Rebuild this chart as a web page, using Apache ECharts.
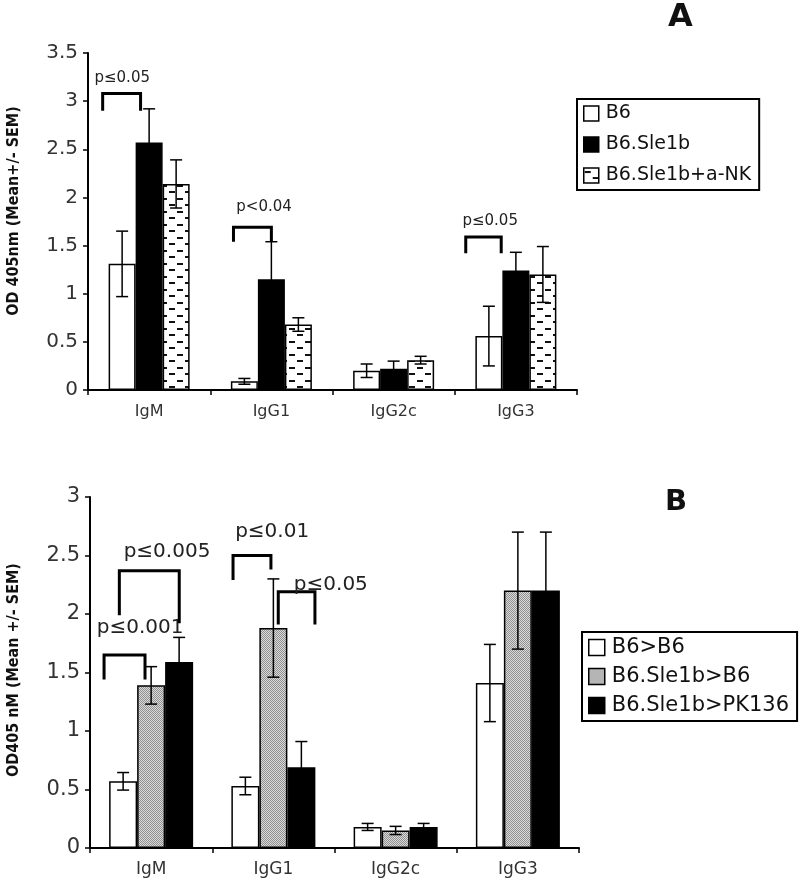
<!DOCTYPE html>
<html>
<head>
<meta charset="utf-8">
<script src="https://cdn.jsdelivr.net/npm/echarts@6/dist/echarts.min.js"></script>
<style>
  html, body { margin: 0; background: #fff; }
  #main { width: 800px; height: 881px; }
</style>
</head>
<body>
<div id="main"></div>
<script>
// ---- data ----
const categories = ['IgM', 'IgG1', 'IgG2c', 'IgG3'];

const namesA = ['B6', 'B6.Sle1b', 'B6.Sle1b+a-NK'];
const meanA = [
  [1.31, 0.09, 0.20, 0.56],
  [2.57, 1.15, 0.22, 1.24],
  [2.14, 0.68, 0.31, 1.20]
];
const semA = [
  [0.34, 0.03, 0.07, 0.31],
  [0.35, 0.39, 0.08, 0.19],
  [0.25, 0.07, 0.04, 0.29]
];

const namesB = ['B6>B6', 'B6.Sle1b>B6', 'B6.Sle1b>PK136'];
const meanB = [
  [0.57, 0.53, 0.18, 1.41],
  [1.39, 1.88, 0.15, 2.20],
  [1.59, 0.69, 0.18, 2.20]
];
const semB = [
  [0.075, 0.075, 0.03, 0.33],
  [0.16, 0.42, 0.035, 0.50],
  [0.21, 0.22, 0.03, 0.50]
];

const yTicksA = [0, 0.5, 1, 1.5, 2, 2.5, 3, 3.5];
const yTicksB = [0, 0.5, 1, 1.5, 2, 2.5, 3];

// p-value brackets: category, leg offsets (fraction of band), heights, label
const pvalA = [
  {cat: 0, x1: -0.38, x2: -0.07, top: 3.08, l: 2.90, r: 2.90, text: 'p≤0.05', tx: -0.22, ty: 3.24},
  {cat: 1, x1: -0.31, x2: 0.0, top: 1.69, l: 1.54, r: 1.54, text: 'p<0.04', tx: -0.06, ty: 1.90},
  {cat: 3, x1: -0.41, x2: -0.12, top: 1.59, l: 1.42, r: 1.42, text: 'p≤0.05', tx: -0.21, ty: 1.75}
];
const pvalB = [
  {cat: 0, x1: -0.385, x2: -0.05, top: 1.65, l: 1.44, r: 1.44, text: 'p≤0.001', tx: -0.09, ty: 1.88},
  {cat: 0, x1: -0.26, x2: 0.23, top: 2.37, l: 1.99, r: 1.92, text: 'p≤0.005', tx: 0.13, ty: 2.53},
  {cat: 1, x1: -0.33, x2: -0.02, top: 2.50, l: 2.29, r: 2.38, text: 'p≤0.01', tx: -0.01, ty: 2.70},
  {cat: 1, x1: 0.04, x2: 0.34, top: 2.19, l: 1.91, r: 1.91, text: 'p≤0.05', tx: 0.47, ty: 2.25}
];

// ---- patterns ----
function makePattern(w, h, draw) {
  const c = document.createElement('canvas');
  c.width = w; c.height = h;
  draw(c.getContext('2d'));
  return {image: c, repeat: 'repeat'};
}
const dashFill = makePattern(16, 13, ctx => {
  ctx.fillStyle = '#fff'; ctx.fillRect(0, 0, 16, 13);
  ctx.fillStyle = '#111';
  ctx.fillRect(1, 3, 6, 2);
  ctx.fillRect(9, 9, 6, 2);
});
const dotFill = makePattern(2, 2, ctx => {
  ctx.fillStyle = '#dadada'; ctx.fillRect(0, 0, 2, 2);
  ctx.fillStyle = '#909090';
  ctx.fillRect(0, 0, 1, 1);
  ctx.fillRect(1, 1, 1, 1);
});

const FONT = 'DejaVu Sans';
const fillsA = ['#fff', '#000', dashFill];
const fillsB = ['#fff', dotFill, '#000'];

// ---- helpers ----
function barSeries(names, means, fills, axis, bw) {
  return names.map((n, i) => ({
    name: n, type: 'bar', xAxisIndex: axis, yAxisIndex: axis,
    data: means[i], barWidth: bw, barGap: '0%',
    itemStyle: {color: fills[i], borderColor: '#000', borderWidth: 1.5}
  }));
}

function errSeries(means, sems, axis, bw) {
  return means.map((m, k) => ({
    type: 'custom', xAxisIndex: axis, yAxisIndex: axis, z: 5, silent: true,
    data: m.map((v, i) => [i, v, sems[k][i]]),
    renderItem(params, api) {
      const c = api.value(0), v = api.value(1), e = api.value(2);
      const top = api.coord([c, v + e]);
      const bot = api.coord([c, Math.max(v - e, 0)]);
      const x = top[0] + (k - 1) * bw;
      const cap = 6;
      const st = {stroke: '#000', lineWidth: 1.5};
      return {type: 'group', children: [
        {type: 'line', shape: {x1: x, y1: top[1], x2: x, y2: bot[1]}, style: st},
        {type: 'line', shape: {x1: x - cap, y1: top[1], x2: x + cap, y2: top[1]}, style: st},
        {type: 'line', shape: {x1: x - cap, y1: bot[1], x2: x + cap, y2: bot[1]}, style: st}
      ]};
    }
  }));
}

function pvalSeries(list, axis, fontSize) {
  return {
    type: 'custom', xAxisIndex: axis, yAxisIndex: axis, z: 6, silent: true,
    data: list.map(p => [p.cat, p.top]),
    renderItem(params, api) {
      const p = list[params.dataIndex];
      const band = api.size([1, 0])[0];
      const c = api.coord([p.cat, p.top]);
      const xa = c[0] + p.x1 * band, xb = c[0] + p.x2 * band;
      const yl = api.coord([p.cat, p.l])[1], yr = api.coord([p.cat, p.r])[1];
      const t = api.coord([p.cat, p.ty]);
      const st = {stroke: '#000', lineWidth: 3, fill: null};
      return {type: 'group', children: [
        {type: 'polyline', shape: {points: [[xa, yl], [xa, c[1]], [xb, c[1]], [xb, yr]]}, style: st},
        {type: 'text', style: {
          x: t[0] + p.tx * band, y: t[1], text: p.text, align: 'center', verticalAlign: 'middle',
          font: fontSize + 'px "' + FONT + '"', fill: '#222'
        }}
      ]};
    }
  };
}

function yAxis(ticks, axis, fontSize) {
  return {
    type: 'value', gridIndex: axis, min: ticks[0], max: ticks[ticks.length - 1],
    interval: ticks[1] - ticks[0],
    axisLine: {show: true, lineStyle: {color: '#000', width: 2}},
    axisTick: {show: true, length: 5, lineStyle: {color: '#000', width: 1.5}},
    axisLabel: {color: '#333', fontSize: fontSize, fontFamily: FONT, margin: 10},
    splitLine: {show: false}
  };
}

function xAxis(axis, fontSize, margin) {
  return {
    type: 'category', gridIndex: axis, data: categories,
    axisLine: {show: true, lineStyle: {color: '#000', width: 2}},
    axisTick: {show: true, length: 5, lineStyle: {color: '#000', width: 1.5}},
    axisLabel: {color: '#333', fontSize: fontSize, fontFamily: FONT, margin: margin}
  };
}

function legend(names, left, top, fontSize, itemGap, icon) {
  return {
    data: names, orient: 'vertical', left: left, top: top, selectedMode: false,
    borderColor: '#000', borderWidth: 2, borderRadius: 0,
    padding: [5, 8, 5, 6], itemWidth: icon, itemHeight: icon, itemGap: itemGap,
    icon: 'rect',
    itemStyle: {borderColor: '#000', borderWidth: 1.5},
    textStyle: {fontSize: fontSize, fontFamily: FONT, color: '#111', padding: [0, 0, 0, 2]}
  };
}

const myChart = echarts.init(document.getElementById('main'), null, {renderer: 'canvas'});
const option = {
  animation: false,
  backgroundColor: '#fff',
  grid: [
    {left: 88, top: 53, width: 489, height: 337},
    {left: 90, top: 497, width: 489, height: 351}
  ],
  xAxis: [xAxis(0, 16, 14), xAxis(1, 17, 13)],
  yAxis: [yAxis(yTicksA, 0, 20), yAxis(yTicksB, 1, 21)],
  legend: [
    legend(namesA, 577, 99, 19, 12, 15),
    legend(namesB, 582, 632, 21, 8, 16)
  ],
  graphic: [
    {type: 'text', left: 668, top: 2, style: {text: 'A', font: 'bold 32px "' + FONT + '"', fill: '#111'}},
    {type: 'text', left: 665, top: 488, style: {text: 'B', font: 'bold 29px "' + FONT + '"', fill: '#111'}},
    {type: 'text', x: 14, y: 211, rotation: Math.PI / 2,
      style: {text: 'OD 405nm (Mean+/- SEM)', font: 'bold 16px "DejaVu Sans Condensed", "' + FONT + '"', fill: '#111',
        align: 'center', verticalAlign: 'middle'}},
    {type: 'text', x: 14, y: 670, rotation: Math.PI / 2,
      style: {text: 'OD405 nM (Mean +/- SEM)', font: 'bold 16px "DejaVu Sans Condensed", "' + FONT + '"', fill: '#111',
        align: 'center', verticalAlign: 'middle'}}
  ],
  series: [
    ...barSeries(namesA, meanA, fillsA, 0, 27),
    ...barSeries(namesB, meanB, fillsB, 1, 28),
    ...errSeries(meanA, semA, 0, 27),
    ...errSeries(meanB, semB, 1, 28),
    pvalSeries(pvalA, 0, 15),
    pvalSeries(pvalB, 1, 20)
  ]
};
myChart.setOption(option);
</script>
</body>
</html>
